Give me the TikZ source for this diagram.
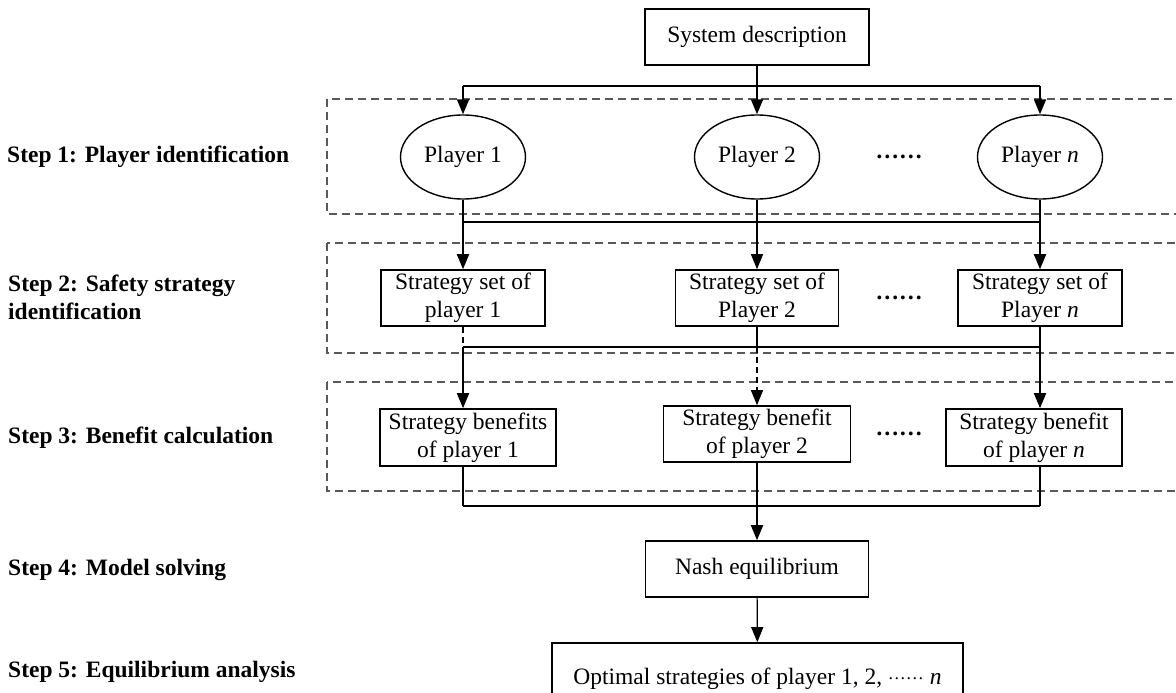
\documentclass[tikz,border=0pt]{standalone}
\usepackage{fontspec}
\setmainfont{Liberation Serif}
\usetikzlibrary{arrows.meta,shapes.geometric}
\newcommand\myfs{\fontsize{23.5}{28}\selectfont}
\tikzset{
  box/.style={draw, line width=1.6pt, minimum height=56pt, inner sep=2pt, align=center, font=\myfs},
  ell/.style={ellipse, draw, line width=1.4pt, minimum width=125pt, minimum height=84pt, inner sep=0pt, font=\myfs},
  lab/.style={anchor=west, font=\bfseries\myfs, align=left, inner sep=0pt},
  grp/.style={draw=black!65, line width=1.1pt, dash pattern=on 8pt off 5pt},
  thickln/.style={line width=1.8pt},
  thinln/.style={line width=1.2pt},
  dashln/.style={line width=1.1pt, dash pattern=on 6pt off 4pt},
  arr/.style={-{Triangle[length=15pt,width=12pt]}},
  dotsn/.style={font=\bfseries\myfs, inner sep=0pt},
}
\begin{document}
\begin{tikzpicture}[x=1pt,y=-1pt]
\useasboundingbox (0,0) rectangle (1176,693);
% group frames
\draw[grp] (327,99) rectangle (1200,214);
\draw[grp] (327,243) rectangle (1200,353);
\draw[grp] (327,382) rectangle (1200,491);
% step labels
\node[lab] (l1) at (7,157) {Step 1: Player identification};
\node[lab] (l2) at (8,297) {Step 2: Safety strategy\\identification};
\node[lab] (l3) at (8,438) {Step 3: Benefit calculation};
\node[lab] (l4) at (8,570) {Step 4: Model solving};
\node[lab] (l5) at (8,672) {Step 5: Equilibrium analysis};
% nodes
\node[box, minimum width=224pt] (sys) at (757,37) {System description};
\node[ell] (p1) at (463,157) {Player 1};
\node[ell] (p2) at (757,157) {Player 2};
\node[ell] (pn) at (1040,157) {Player \textit{n}};
\node[dotsn] (e1) at (899,157) {……};
\node[box, minimum width=164pt] (s1) at (463,298) {Strategy set of\\player 1};
\node[box, minimum width=163pt] (s2) at (757,298) {Strategy set of\\Player 2};
\node[box, minimum width=164pt] (sn) at (1040,298) {Strategy set of\\Player \textit{n}};
\node[dotsn] (e2) at (899,298) {……};
\node[box, minimum width=176pt, minimum height=57pt] (t1) at (468,437.5) {Strategy benefits\\of player 1};
\node[box, minimum width=187pt] (t2) at (757,434) {Strategy benefit\\of player 2};
\node[box, minimum width=176pt, minimum height=57pt] (tn) at (1034,437.5) {Strategy benefit\\of player \textit{n}};
\node[dotsn] (e3) at (899,434) {……};
\node[box, minimum width=223pt] (nash) at (757,569) {Nash equilibrium};
\node[box, minimum width=411pt, minimum height=71pt] (opt) at (757.5,678.5) {Optimal strategies of player 1, 2, \raisebox{0.2em}{\fontsize{18}{18}\selectfont ……} \textit{n}};
% junction points
\coordinate (a1) at (463,86);
\coordinate (an) at (1040,86);
\coordinate (b1) at (463,222);
\coordinate (bn) at (1040,222);
\coordinate (c1) at (463,347);
\coordinate (c2) at (757,347);
\coordinate (cn) at (1040,347);
\coordinate (d1) at (463,506);
\coordinate (d2) at (757,506);
\coordinate (dn) at (1040,506);
% level 1
\draw[thickln] (a1) -- (an);
\draw[thickln,arr] (sys) -- (p2);
\draw[thickln,arr] (a1) -- (p1);
\draw[thickln,arr] (an) -- (pn);
% level 2
\draw[thinln] (p1) -- (b1);
\draw[thinln] (pn) -- (bn);
\draw[thickln] (b1) -- (bn);
\draw[thickln,arr] (b1) -- (s1);
\draw[thinln,arr] (p2) -- (s2);
\draw[thickln,arr] (bn) -- (sn);
% level 3
\draw[dashln] (s1) -- (c1);
\draw[thickln] (s2) -- (c2);
\draw[thickln] (sn) -- (cn);
\draw[thickln] (c1) -- (cn);
\draw[thickln,arr] (c1) -- (c1 |- t1.north);
\draw[dashln,arr] (c2) -- (t2);
\draw[thickln,arr] (cn) -- (cn |- tn.north);
% level 4
\draw[thickln] (d1 |- t1.south) -- (d1);
\draw[thickln] (t2) -- (d2);
\draw[thickln] (dn |- tn.south) -- (dn);
\draw[thickln] (d1) -- (dn);
\draw[thickln,arr] (d2) -- (nash);
% level 5
\draw[thinln,arr] (nash) -- (opt);
\end{tikzpicture}
\end{document}
